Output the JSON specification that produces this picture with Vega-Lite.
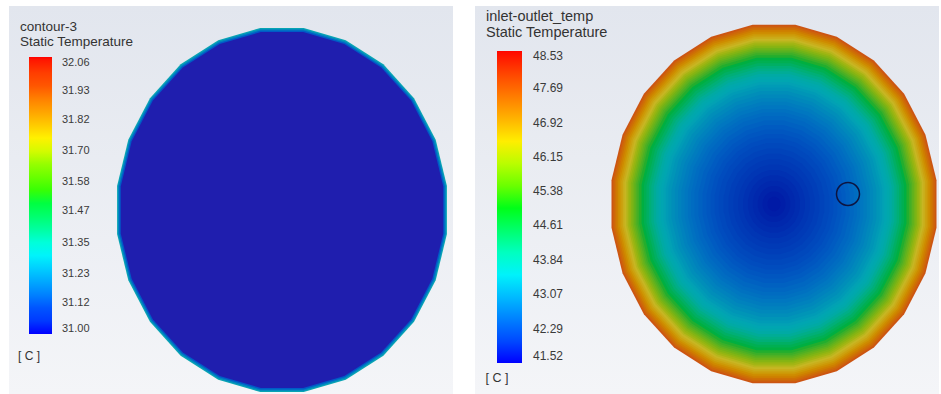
{
  "$schema": "https://vega.github.io/schema/vega-lite/v6.json",
  "padding": {"left": 9, "top": 6, "right": 0, "bottom": 0},
  "autosize": {"type": "pad"},
  "background": "white",
  "spacing": 22,
  "config": {
    "view": {"stroke": null, "fill": {"gradient": "linear", "x1": 0, "y1": 0, "x2": 0, "y2": 1, "stops": [{"offset": 0, "color": "#e2e6ee"}, {"offset": 1, "color": "#f4f5f8"}]}},
    "font": "Liberation Sans",
    "title": {"anchor": "start", "orient": "top", "baseline": "alphabetic", "fontWeight": "normal", "color": "#333333", "font": "Liberation Sans", "frame": "group"}
  },
  "datasets": {
    "left": [
      {"r": 1.0, "t": 31.30},
      {"r": 0.993, "t": 31.20},
      {"r": 0.986, "t": 31.10},
      {"r": 0.978, "t": 31.0}
    ],
    "right": [
      {"r": 1.0, "t": 48.15}, {"r": 0.99, "t": 47.9}, {"r": 0.98, "t": 47.7}, {"r": 0.97, "t": 47.45},
      {"r": 0.96, "t": 47.2}, {"r": 0.95, "t": 46.95}, {"r": 0.94, "t": 46.75}, {"r": 0.93, "t": 46.55},
      {"r": 0.92, "t": 46.35}, {"r": 0.91, "t": 46.2}, {"r": 0.9, "t": 46.0}, {"r": 0.89, "t": 45.85},
      {"r": 0.88, "t": 45.7}, {"r": 0.87, "t": 45.55}, {"r": 0.86, "t": 45.42}, {"r": 0.85, "t": 45.3},
      {"r": 0.84, "t": 45.2}, {"r": 0.83, "t": 45.1}, {"r": 0.815, "t": 44.98}, {"r": 0.8, "t": 44.85},
      {"r": 0.785, "t": 44.7}, {"r": 0.77, "t": 44.52}, {"r": 0.755, "t": 44.35}, {"r": 0.74, "t": 44.15},
      {"r": 0.725, "t": 43.95}, {"r": 0.71, "t": 43.8}, {"r": 0.695, "t": 43.65}, {"r": 0.68, "t": 43.5},
      {"r": 0.665, "t": 43.38}, {"r": 0.65, "t": 43.27}, {"r": 0.63, "t": 43.15}, {"r": 0.61, "t": 43.04},
      {"r": 0.59, "t": 42.94}, {"r": 0.57, "t": 42.84}, {"r": 0.55, "t": 42.75}, {"r": 0.53, "t": 42.66},
      {"r": 0.51, "t": 42.57}, {"r": 0.49, "t": 42.49}, {"r": 0.465, "t": 42.4}, {"r": 0.44, "t": 42.32},
      {"r": 0.415, "t": 42.24}, {"r": 0.39, "t": 42.17}, {"r": 0.365, "t": 42.1}, {"r": 0.34, "t": 42.04},
      {"r": 0.31, "t": 41.98}, {"r": 0.28, "t": 41.92}, {"r": 0.25, "t": 41.87}, {"r": 0.22, "t": 41.82},
      {"r": 0.19, "t": 41.77}, {"r": 0.16, "t": 41.72}, {"r": 0.13, "t": 41.68}, {"r": 0.1, "t": 41.64},
      {"r": 0.07, "t": 41.6}, {"r": 0.04, "t": 41.57}
    ],
    "probe": [{"name": "probe"}]
  },
  "hconcat": [
    {
      "width": 444,
      "height": 388,
      "title": {"text": ["contour-3", "Static Temperature"], "fontSize": 13.5, "lineHeight": 15, "offset": -42, "dx": 11},
      "data": {"name": "left"},
      "encoding": {
        "x": {"datum": 0, "type": "quantitative", "scale": {"domain": [-273, 171], "nice": false, "zero": false}, "axis": null},
        "y": {"datum": 0, "type": "quantitative", "scale": {"domain": [-184, 204], "nice": false, "zero": false}, "axis": null}
      },
      "layer": [
        {
          "mark": {"type": "point", "shape": "M0.118,-0.991L0.347,-0.924L0.552,-0.793L0.719,-0.609L0.837,-0.383L0.898,-0.131L0.898,0.131L0.837,0.383L0.719,0.609L0.552,0.793L0.347,0.924L0.118,0.991L-0.118,0.991L-0.347,0.924L-0.552,0.793L-0.719,0.609L-0.837,0.383L-0.898,0.131L-0.898,-0.131L-0.837,-0.383L-0.719,-0.609L-0.552,-0.793L-0.347,-0.924L-0.118,-0.991Z", "filled": true, "opacity": 1, "strokeWidth": 0},
          "encoding": {
            "size": {"field": "r", "type": "quantitative", "scale": {"type": "pow", "exponent": 2, "domain": [0, 1], "range": [0, 134900]}, "legend": null},
            "fill": {"field": "t", "type": "quantitative", "scale": {"domain": [31.0, 31.307, 31.541, 31.731, 32.06], "range": ["#1f1eae", "#20a6b2", "#22b02c", "#c8c020", "#c8381a"]}, "legend": null},
            "order": {"field": "r", "type": "quantitative", "sort": "descending"}
          }
        },
        {
          "mark": {"type": "point", "filled": true, "opacity": 1, "size": 0, "strokeWidth": 0},
          "encoding": {
            "color": {"field": "t", "type": "quantitative", "scale": {"domain": [31.0, 32.06], "range": ["#0000ff", "#0058ff", "#00b0ff", "#00fff4", "#00ff80", "#00ff0b", "#80ff00", "#fff700", "#ffa500", "#ff5200", "#ff0000"]},
              "legend": {"orient": "none", "legendX": 9, "legendY": 51, "direction": "vertical", "gradientLength": 277, "gradientThickness": 23, "gradientStrokeWidth": 0, "labelFontSize": 11, "labelColor": "#3a3a3a", "labelOffset": 10, "labelOverlap": false, "format": ".2f", "title": "[ C ]", "titleOrient": "bottom", "titleAnchor": "start", "titleAlign": "center", "titleFontSize": 12, "titleFontWeight": "normal", "titleColor": "#333333", "titlePadding": 17, "values": [31.00, 31.12, 31.23, 31.35, 31.47, 31.58, 31.70, 31.82, 31.93, 32.06]}}
          }
        }
      ]
    },
    {
      "width": 464,
      "height": 388,
      "title": {"text": ["inlet-outlet_temp", "Static Temperature"], "fontSize": 14.5, "lineHeight": 16, "offset": -34, "dx": 11},
      "layer": [
        {
          "data": {"name": "right"},
          "mark": {"type": "point", "shape": "M0.118,-0.991L0.347,-0.924L0.552,-0.793L0.719,-0.609L0.837,-0.383L0.898,-0.131L0.898,0.131L0.837,0.383L0.719,0.609L0.552,0.793L0.347,0.924L0.118,0.991L-0.118,0.991L-0.347,0.924L-0.552,0.793L-0.719,0.609L-0.837,0.383L-0.898,0.131L-0.898,-0.131L-0.837,-0.383L-0.719,-0.609L-0.552,-0.793L-0.347,-0.924L-0.118,-0.991Z", "filled": true, "opacity": 1, "strokeWidth": 0},
          "encoding": {
            "x": {"datum": 0, "type": "quantitative", "scale": {"domain": [-299, 165], "nice": false, "zero": false}, "axis": null},
            "y": {"datum": 0, "type": "quantitative", "scale": {"domain": [-190, 198], "nice": false, "zero": false}, "axis": null},
            "size": {"field": "r", "type": "quantitative", "scale": {"type": "pow", "exponent": 2, "domain": [0, 1], "range": [0, 131000]}, "legend": null},
            "fill": {"field": "t", "type": "quantitative", "scale": {"domain": [41.52, 43.55, 45.1, 46.36, 48.53], "range": ["#1212a2", "#1ea4b4", "#22ae2e", "#c8b624", "#c83c1c"]}, "legend": null},
            "order": {"field": "r", "type": "quantitative", "sort": "descending"}
          }
        },
        {
          "data": {"name": "right"},
          "mark": {"type": "point", "filled": true, "opacity": 1, "size": 0, "strokeWidth": 0},
          "encoding": {
            "x": {"datum": 0, "type": "quantitative", "scale": {"domain": [-299, 165], "nice": false, "zero": false}, "axis": null},
            "y": {"datum": 0, "type": "quantitative", "scale": {"domain": [-190, 198], "nice": false, "zero": false}, "axis": null},
            "color": {"field": "t", "type": "quantitative", "scale": {"domain": [41.52, 48.53], "range": ["#0000ff", "#0058ff", "#00b0ff", "#00fff4", "#00ff80", "#00ff0b", "#80ff00", "#fff700", "#ffa500", "#ff5200", "#ff0000"]},
              "legend": {"orient": "none", "legendX": 11, "legendY": 45, "direction": "vertical", "gradientLength": 312, "gradientThickness": 25, "gradientStrokeWidth": 0, "labelFontSize": 12, "labelColor": "#3a3a3a", "labelOffset": 11, "labelOverlap": false, "format": ".2f", "title": "[ C ]", "titleOrient": "bottom", "titleAnchor": "start", "titleAlign": "center", "titleFontSize": 12.5, "titleFontWeight": "normal", "titleColor": "#333333", "titlePadding": 9, "values": [41.52, 42.29, 43.07, 43.84, 44.61, 45.38, 46.15, 46.92, 47.69, 48.53]}}
          }
        },
        {
          "data": {"name": "probe"},
          "mark": {"type": "point", "shape": "circle", "filled": false, "opacity": 1, "stroke": "#0d1440", "strokeWidth": 1.5, "size": 529},
          "encoding": {
            "x": {"datum": 74, "type": "quantitative", "scale": {"domain": [-299, 165], "nice": false, "zero": false}, "axis": null},
            "y": {"datum": 10, "type": "quantitative", "scale": {"domain": [-190, 198], "nice": false, "zero": false}, "axis": null}
          }
        }
      ]
    }
  ],
  "resolve": {"scale": {"x": "independent", "y": "independent", "size": "independent", "fill": "independent", "color": "independent"}, "legend": {"color": "independent"}}
}
